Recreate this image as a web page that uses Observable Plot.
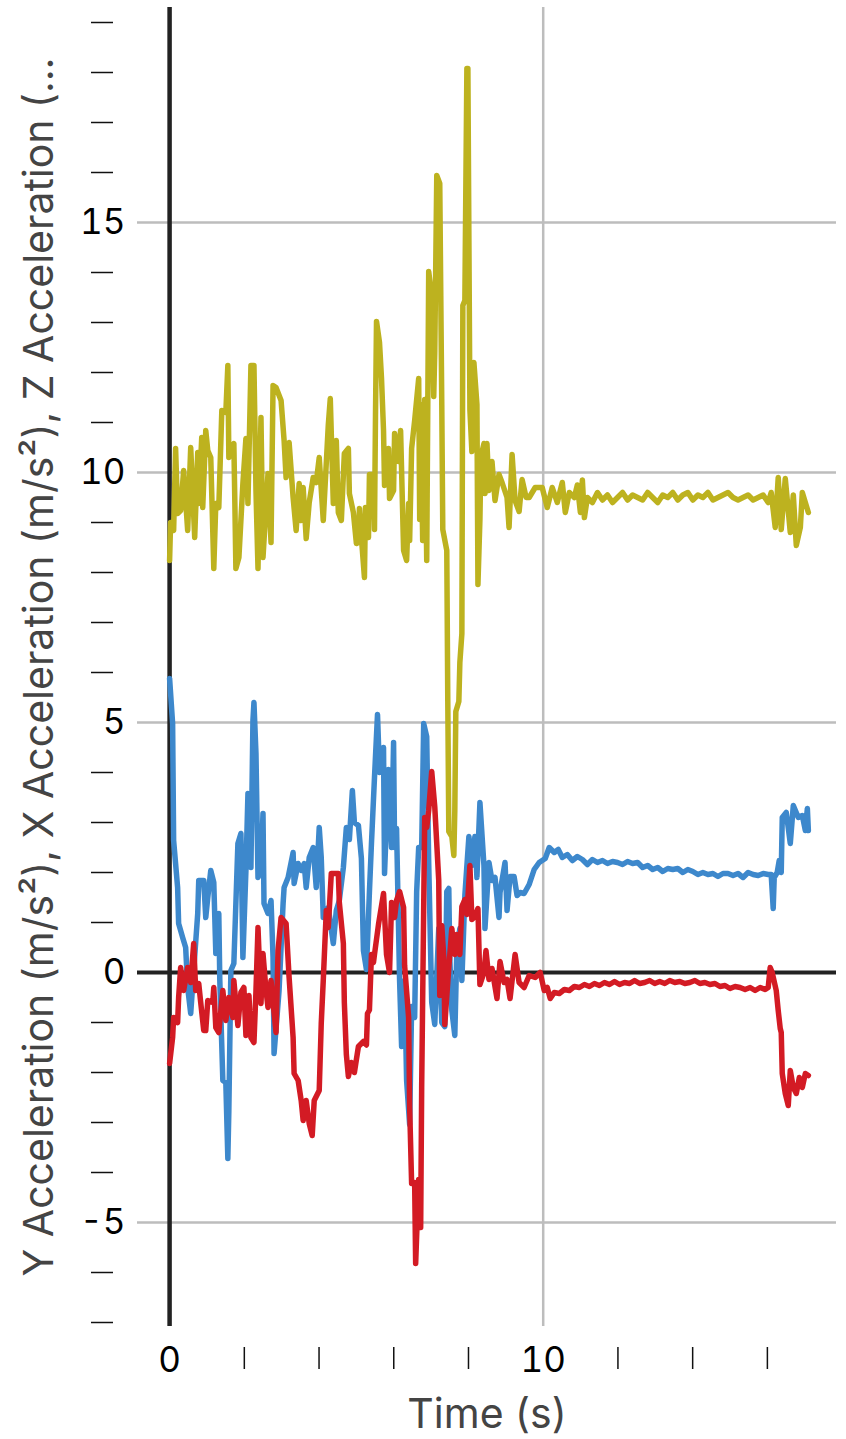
<!DOCTYPE html>
<html>
<head>
<meta charset="utf-8">
<script src="https://cdn.jsdelivr.net/npm/d3@7"></script>
<script src="https://cdn.jsdelivr.net/npm/@observablehq/plot@0.6"></script>
<style>
  html, body { margin: 0; padding: 0; background: #fff; }
  #chart svg { display: block; font-family: Inter, "Liberation Sans", sans-serif; }
</style>
</head>
<body>
<div id="chart"></div>
<script>
// ---- Data (time in s, acceleration in m/s²) ----
const seriesNames = ["Z Acceleration", "Y Acceleration", "X Acceleration"];
const seriesColors = ["#bdb21f", "#3d88cc", "#d31b24"];

const zTime = [0.000,0.027,0.108,0.161,0.215,0.296,0.376,0.484,0.565,0.672,0.753,0.780,0.860,0.887,0.968,1.022,1.102,1.183,1.237,1.317,
1.398,1.505,1.559,1.586,1.720,1.747,1.774,1.855,1.962,2.043,2.097,2.177,2.258,2.312,2.366,2.446,2.500,2.634,2.715,2.769,
2.849,2.984,3.065,3.118,3.199,3.306,3.387,3.468,3.522,3.575,3.656,3.737,3.844,3.925,4.005,4.113,4.247,4.301,4.382,4.462,
4.516,4.597,4.677,4.785,4.812,4.919,5.000,5.054,5.081,5.134,5.215,5.242,5.323,5.349,5.457,5.484,5.511,5.538,5.618,5.672,
5.726,5.753,5.860,5.887,5.995,6.022,6.129,6.183,6.263,6.344,6.398,6.425,6.478,6.559,6.667,6.694,6.720,6.774,6.828,6.882,
6.935,7.016,7.070,7.097,7.151,7.231,7.285,7.312,7.419,7.446,7.473,7.554,7.608,7.634,7.661,7.742,7.769,7.823,7.849,7.903,
7.957,7.984,8.038,8.091,8.145,8.226,8.253,8.306,8.333,8.414,8.441,8.495,8.548,8.629,8.710,8.817,8.898,9.032,9.086,9.167,
9.247,9.355,9.435,9.543,9.624,9.785,9.973,10.108,10.242,10.376,10.511,10.591,10.699,10.833,10.914,10.995,11.048,11.102,11.183,11.317,
11.452,11.586,11.720,11.855,11.989,12.124,12.258,12.392,12.527,12.661,12.796,12.930,13.065,13.199,13.333,13.468,13.602,13.737,13.871,14.005,
14.140,14.274,14.409,14.543,14.677,14.812,14.946,15.081,15.215,15.349,15.484,15.618,15.753,15.887,16.022,16.102,16.210,16.290,16.371,16.479,
16.613,16.694,16.774,16.882,16.935,17.016,17.097];
const zAccel = [8.24,9.00,8.84,10.48,9.18,9.24,10.04,8.84,10.50,8.70,10.40,9.38,10.70,9.30,10.84,10.44,10.30,8.08,9.38,9.30,
11.24,11.20,12.14,10.30,10.58,9.38,8.08,8.30,9.78,10.68,9.38,12.14,12.14,9.64,8.08,11.10,8.30,9.98,8.60,11.74,
11.70,11.44,10.64,9.90,10.60,9.50,8.84,9.78,9.04,9.70,8.68,9.40,9.90,9.80,10.30,9.04,10.94,11.48,9.38,10.64,
9.20,9.04,10.38,10.48,9.58,9.20,8.58,8.60,9.28,8.70,7.90,9.30,8.70,9.96,9.96,8.86,11.14,13.02,12.60,11.88,
10.84,9.74,10.48,9.48,9.64,10.78,10.22,10.84,8.44,8.24,9.38,8.64,10.48,11.04,11.88,9.06,11.36,8.64,11.46,8.24,
14.02,13.54,11.52,12.40,15.94,15.78,11.36,8.86,8.44,5.42,2.82,2.72,2.34,3.24,5.22,5.42,6.20,6.78,13.34,13.44,
18.08,18.08,11.26,10.42,12.20,11.36,7.76,9.06,10.32,10.58,9.58,10.58,9.64,10.22,9.44,9.96,9.80,9.50,8.90,10.36,
9.44,9.22,9.86,9.50,9.50,9.70,9.70,9.30,9.70,9.40,9.80,9.20,9.60,9.50,9.75,9.20,9.85,9.10,9.50,9.40,
9.60,9.45,9.55,9.40,9.50,9.60,9.45,9.55,9.50,9.45,9.60,9.50,9.40,9.55,9.50,9.60,9.45,9.55,9.60,9.45,
9.55,9.50,9.60,9.45,9.50,9.55,9.60,9.50,9.45,9.50,9.55,9.45,9.50,9.55,9.40,9.60,8.90,9.90,8.86,9.88,
8.80,9.55,8.54,8.90,9.60,9.40,9.20];

const yTime = [0.000,0.081,0.108,0.215,0.242,0.349,0.430,0.484,0.565,0.645,0.753,0.780,0.914,0.968,1.022,1.102,1.183,1.237,1.317,1.344,
1.425,1.505,1.559,1.586,1.640,1.720,1.828,1.909,1.962,2.043,2.097,2.177,2.231,2.258,2.312,2.366,2.446,2.500,2.527,2.634,
2.715,2.769,2.796,2.903,2.930,3.038,3.065,3.172,3.306,3.333,3.441,3.522,3.602,3.656,3.737,3.844,3.925,4.005,4.059,4.113,
4.247,4.382,4.462,4.543,4.651,4.731,4.812,4.892,4.946,5.054,5.134,5.188,5.269,5.349,5.403,5.484,5.565,5.618,5.672,5.726,
5.753,5.860,5.941,5.995,6.022,6.075,6.156,6.210,6.290,6.344,6.425,6.478,6.559,6.613,6.667,6.747,6.801,6.882,6.935,7.016,
7.097,7.204,7.285,7.366,7.419,7.473,7.500,7.554,7.634,7.688,7.769,7.823,7.903,8.011,8.091,8.172,8.226,8.306,8.414,8.441,
8.548,8.629,8.710,8.817,8.844,8.978,9.032,9.113,9.220,9.301,9.382,9.489,9.624,9.758,9.892,10.054,10.161,10.296,10.403,10.511,
10.645,10.780,10.914,11.048,11.183,11.317,11.452,11.586,11.720,11.855,11.989,12.124,12.258,12.392,12.527,12.661,12.796,12.930,13.065,13.199,
13.333,13.468,13.602,13.737,13.871,14.005,14.140,14.274,14.409,14.543,14.677,14.812,14.946,15.081,15.215,15.349,15.484,15.618,15.753,15.887,
16.022,16.102,16.156,16.183,16.263,16.317,16.371,16.398,16.505,16.613,16.694,16.828,16.935,17.016,17.070,17.097];
const yAccel = [5.88,4.98,2.64,1.70,0.98,0.70,0.50,-0.30,-0.82,0.04,1.18,1.84,1.84,1.10,1.50,2.04,1.80,0.38,1.18,-0.16,
-2.16,-2.20,-3.72,-2.76,0.04,0.18,2.58,2.78,0.30,2.04,3.58,2.10,5.04,5.40,4.38,1.90,2.04,3.18,1.38,1.18,
1.44,0.30,-1.62,-0.62,-0.36,1.38,1.70,1.90,2.40,1.78,2.18,2.04,2.18,1.70,2.30,2.50,1.70,2.90,2.30,1.10,
1.30,0.58,1.24,1.44,2.10,2.90,2.66,3.64,3.00,2.94,2.28,0.44,0.06,1.62,2.58,3.90,5.16,4.00,4.20,4.50,
1.98,4.06,2.50,4.60,2.50,2.88,-0.16,-1.48,-0.16,-2.16,-3.04,-0.68,-0.90,1.62,2.50,2.50,4.98,4.72,2.20,-0.60,
-1.04,0.88,-1.00,-1.08,1.62,1.68,0.28,-0.76,-1.26,0.44,0.88,-0.16,1.54,2.72,2.14,2.72,1.90,3.40,2.14,0.88,
2.20,1.84,1.90,1.10,1.60,2.20,1.24,1.92,1.92,1.54,1.60,1.58,1.76,2.06,2.20,2.28,2.50,2.40,2.46,2.30,
2.36,2.24,2.32,2.26,2.16,2.26,2.20,2.24,2.18,2.22,2.20,2.16,2.22,2.18,2.20,2.10,2.14,2.06,2.10,2.02,
2.08,2.06,2.08,2.00,2.06,2.02,1.96,2.00,1.96,1.98,1.92,1.98,1.98,1.94,1.98,1.90,2.00,1.96,1.94,1.98,
1.96,1.96,1.28,1.90,2.00,2.24,2.00,3.10,3.20,2.58,3.34,3.10,3.14,2.84,3.28,2.84];

const xTime = [0.000,0.081,0.108,0.215,0.242,0.296,0.376,0.484,0.565,0.645,0.699,0.780,0.833,0.914,0.968,1.022,1.156,1.183,1.237,1.317,
1.425,1.505,1.586,1.694,1.720,1.828,1.909,1.989,2.043,2.124,2.177,2.258,2.312,2.366,2.446,2.500,2.581,2.634,2.715,2.769,
2.849,2.903,2.984,3.118,3.199,3.306,3.333,3.441,3.522,3.575,3.656,3.737,3.817,3.871,4.005,4.059,4.113,4.194,4.247,4.328,
4.516,4.543,4.651,4.677,4.731,4.785,4.866,4.946,5.054,5.188,5.269,5.296,5.349,5.403,5.457,5.484,5.591,5.726,5.806,5.887,
5.941,6.022,6.075,6.156,6.263,6.290,6.398,6.425,6.478,6.559,6.586,6.667,6.720,6.747,6.828,6.882,6.935,7.016,7.097,7.204,
7.231,7.285,7.339,7.366,7.473,7.554,7.634,7.688,7.769,7.823,7.903,7.957,8.038,8.091,8.172,8.253,8.306,8.414,8.468,8.548,
8.629,8.763,8.844,8.952,9.032,9.113,9.247,9.355,9.489,9.624,9.785,9.919,10.027,10.108,10.188,10.296,10.430,10.565,10.699,10.833,
10.968,11.102,11.237,11.371,11.505,11.640,11.774,11.909,12.043,12.177,12.312,12.446,12.581,12.715,12.849,12.984,13.118,13.253,13.387,13.522,
13.656,13.790,13.925,14.059,14.194,14.328,14.462,14.597,14.731,14.866,15.000,15.134,15.269,15.403,15.538,15.672,15.806,15.941,16.022,16.075,
16.129,16.237,16.290,16.344,16.371,16.398,16.479,16.559,16.613,16.694,16.774,16.855,16.935,17.016,17.097];
const xAccel = [-1.82,-1.30,-0.90,-1.00,-0.50,0.10,-0.36,0.10,-0.20,0.58,-0.36,-0.22,-0.60,-1.16,-1.16,-0.56,-0.60,-0.30,-1.10,-1.20,
-0.36,-0.96,-0.50,-0.90,-0.16,-1.06,-0.40,-0.30,-1.26,-0.46,-1.30,-1.40,-0.36,0.90,-0.62,0.38,-0.36,-0.70,-0.16,-0.60,
-1.20,0.44,1.10,0.98,-0.10,-1.30,-2.02,-2.16,-2.56,-2.96,-2.56,-3.02,-3.26,-2.56,-2.36,-1.02,-0.16,1.24,0.90,1.98,
1.98,1.40,0.58,-0.60,-1.64,-2.08,-1.80,-2.00,-1.48,-1.38,-1.45,-0.82,-0.75,0.36,0.20,0.36,0.96,1.58,0.36,0.00,
1.40,1.10,1.44,1.62,1.30,0.14,-0.90,-2.68,-4.22,-4.20,-5.82,-4.14,-5.10,-2.30,3.10,2.90,3.24,4.02,3.32,1.84,
-0.46,0.94,0.30,-1.04,0.10,0.88,0.36,0.76,0.36,1.32,1.46,1.16,2.14,1.06,1.12,1.28,-0.24,0.00,0.44,-0.14,
0.08,-0.52,0.22,-0.20,-0.14,-0.52,0.36,-0.20,-0.30,-0.06,-0.10,0.00,-0.36,-0.30,-0.52,-0.40,-0.42,-0.34,-0.36,-0.28,
-0.30,-0.24,-0.28,-0.22,-0.26,-0.20,-0.24,-0.18,-0.24,-0.20,-0.22,-0.16,-0.22,-0.20,-0.16,-0.22,-0.18,-0.22,-0.16,-0.20,
-0.18,-0.22,-0.20,-0.16,-0.22,-0.20,-0.24,-0.22,-0.28,-0.26,-0.32,-0.28,-0.30,-0.34,-0.30,-0.36,-0.30,-0.34,-0.30,0.10,
0.00,-0.36,-0.76,-1.12,-1.20,-2.02,-2.42,-2.66,-1.96,-2.30,-2.42,-2.10,-2.30,-2.02,-2.06];

// Axis ticks and labels
const yTicksMajor = [-5, 0, 5, 10, 15];
const yTicksMinor = [-7,-6,-4,-3,-2,-1,1,2,3,4,6,7,8,9,11,12,13,14,16,17,18,19];
const xTicksMajor = [0, 10];
const xTicksMinor = [2, 4, 6, 8, 12, 14, 16];
const xLabel = "Time (s)";
const yLabel = "Y Acceleration (m/s²), X Acceleration (m/s²), Z Acceleration (…";

// ---- Build table ----
const times = [zTime, yTime, xTime];
const accels = [zAccel, yAccel, xAccel];
const rows = seriesNames.map((name, i) =>
  times[i].map((t, j) => ({series: name, t, a: accels[i][j]}))
);

const lineOpts = (i) => ({
  x: "t", y: "a",
  stroke: seriesColors[i],
  strokeWidth: 5.5,
  strokeLinejoin: "round",
  strokeLinecap: "round"
});

const chart = Plot.plot({
  width: 846,
  height: 1439,
  marginLeft: 137,
  marginRight: 10,
  marginTop: 7,
  marginBottom: 113,
  style: {fontFamily: "Inter, 'Liberation Sans', sans-serif", background: "#fff"},
  x: {domain: [-0.859, 17.85]},
  y: {domain: [-7.08, 19.3]},
  marks: [
    Plot.gridY(yTicksMajor, {stroke: "#bdbdbd", strokeOpacity: 1, strokeWidth: 2.5}),
    Plot.gridX([10], {stroke: "#bdbdbd", strokeOpacity: 1, strokeWidth: 2.5}),
    Plot.ruleY([0], {stroke: "#222", strokeWidth: 4}),
    Plot.ruleX([0], {stroke: "#222", strokeWidth: 4.5}),
    Plot.axisY(yTicksMajor, {tickSize: 0, tickPadding: 12, fontSize: 35, fill: "#000", tickFormat: d => `${d}`, label: null}),
    Plot.axisY(yTicksMinor, {tickSize: 22, dx: -24, tickFormat: () => "", label: null, stroke: "#111", strokeWidth: 1.5}),
    Plot.axisX(xTicksMajor, {tickSize: 0, tickPadding: 21, fontSize: 35, fill: "#000", tickFormat: d => `${d}`, label: null}),
    Plot.axisX(xTicksMinor, {tickSize: 22, dy: 21, tickFormat: () => "", label: null, stroke: "#111", strokeWidth: 1.5}),
    Plot.line(rows[0], lineOpts(0)),
    Plot.line(rows[1], lineOpts(1)),
    Plot.line(rows[2], lineOpts(2)),
    Plot.text([xLabel], {frameAnchor: "bottom", dy: 88, fontSize: 41, fill: "#444", lineAnchor: "middle", textAnchor: "middle"}),
    Plot.text([yLabel], {frameAnchor: "left", dx: -98, rotate: -90, fontSize: 41, fill: "#444", lineAnchor: "middle", textAnchor: "middle"})
  ]
});
document.getElementById("chart").append(chart);
</script>
</body>
</html>
